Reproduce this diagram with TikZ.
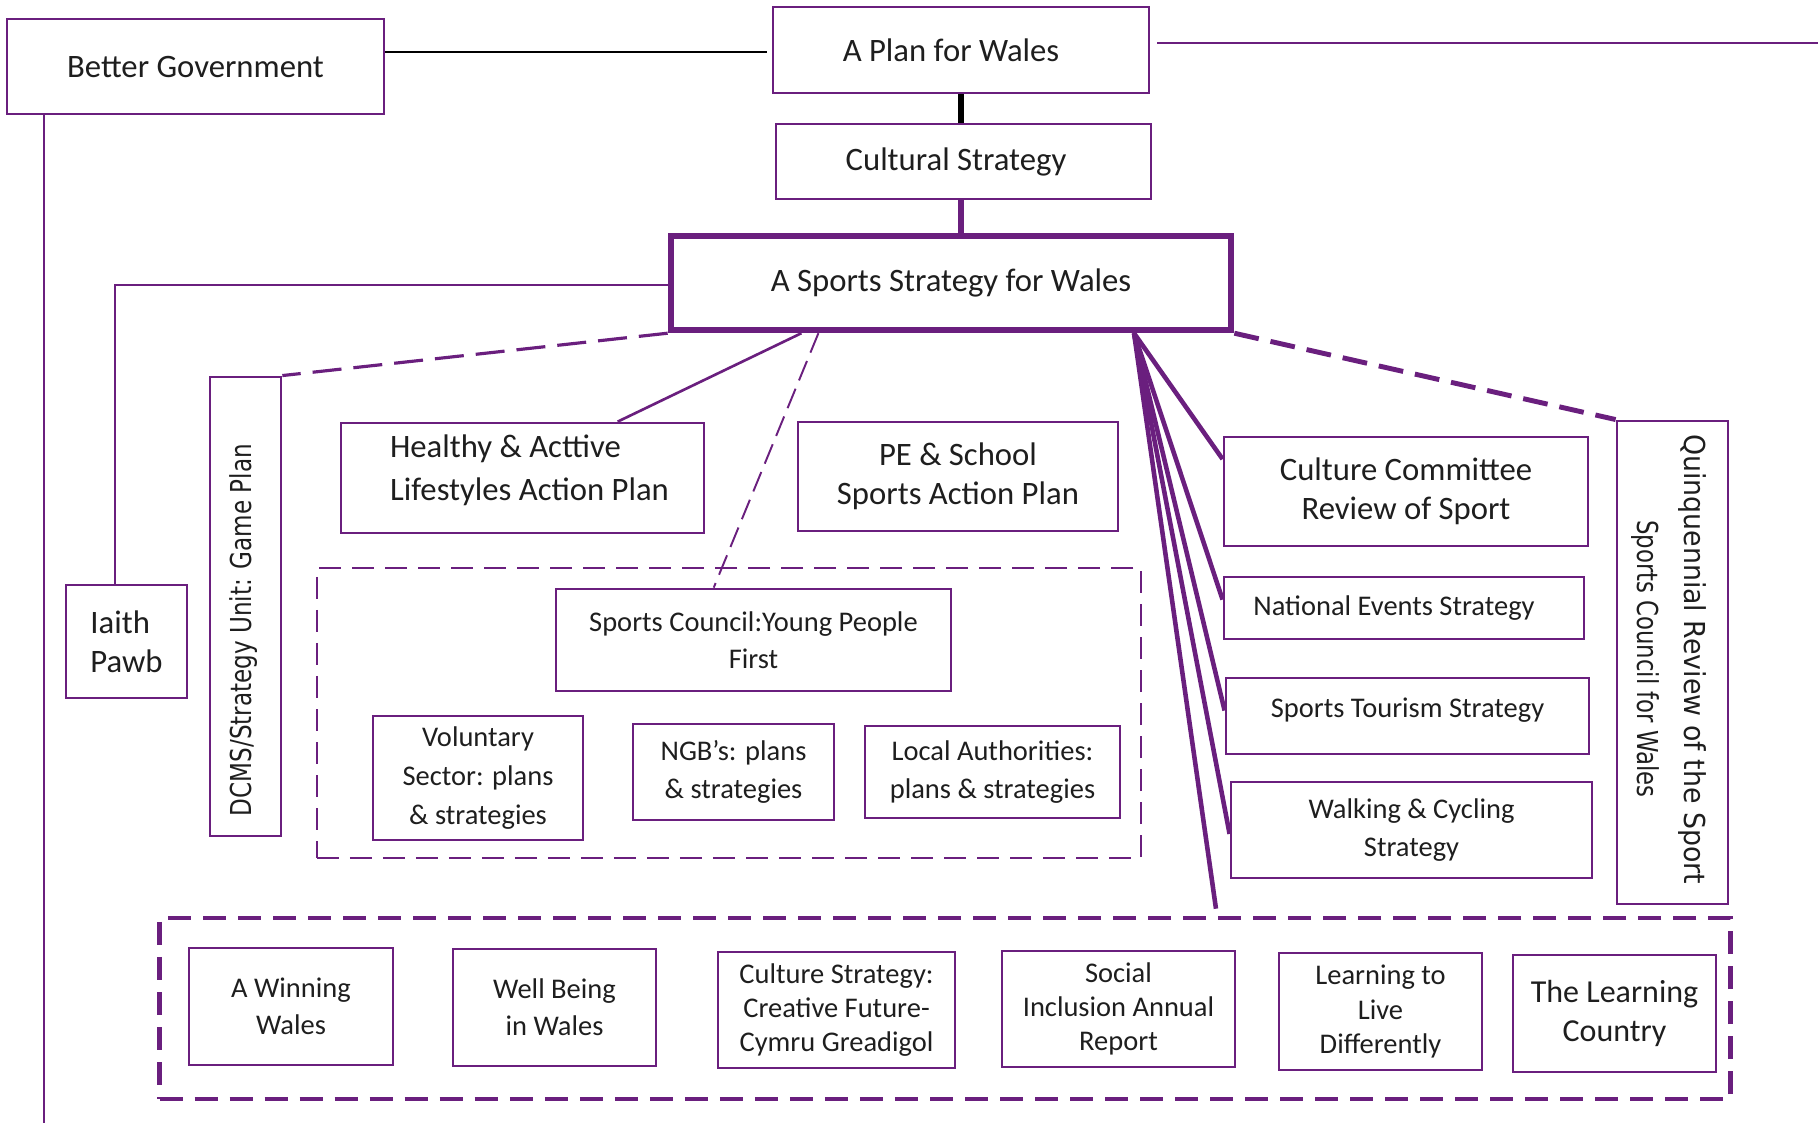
\documentclass[tikz,border=0pt]{standalone}
\usepackage{graphicx}
\usepackage{fontspec}
\setmainfont{Carlito}
\newfontfamily\sidefont{DejaVu Sans}
\usetikzlibrary{calc}
\definecolor{plum}{RGB}{106,31,126}
\definecolor{ink}{RGB}{30,30,30}

\tikzset{
  box/.style={draw=plum, line width=0.75pt, align=center, inner sep=0pt, text=ink},
  bigtext/.style={font=\fontsize{9.3}{11}\selectfont},
  midtext/.style={font=\fontsize{8.1}{10.6}\selectfont},
  sidetext/.style={font=\sidefont\fontsize{8.2}{13.6}\selectfont, text=ink, align=center},
  link/.style={draw=plum, line width=0.75pt},
  fan/.style={draw=plum, line width=1.3pt},
}

\begin{document}
\begin{tikzpicture}[x=0.01cm, y=-0.01cm]
\useasboundingbox (0,0) rectangle (1818,1123);

% Top of the hierarchy
\node[box, bigtext, minimum width=37.7mm, minimum height=9.5mm] (bg) at (195.5, 66.5) {Better Government};
\node[box, bigtext, minimum width=37.6mm, minimum height=8.6mm] (plan) at (961, 50) {\hspace*{-2mm}A Plan for Wales};
\node[box, bigtext, minimum width=37.5mm, minimum height=7.5mm] (cult) at (963.5, 161.5) {\hspace*{-1.5mm}Cultural Strategy};
\node[box, bigtext, line width=1.8pt, minimum width=56mm, minimum height=9.4mm] (sport) at (951, 283) {A Sports Strategy for Wales};

% Left hand side
\node[box, bigtext, align=left, minimum width=12.1mm, minimum height=11.3mm] (iaith) at (126.5, 641.5) {Iaith\\Pawb};
\node[box, minimum width=7.1mm, minimum height=45.9mm] (dcms) at (245.5, 606.5) {};
\node[sidetext, rotate=90, xscale=0.8] (dcmstext) at (244, 630) {DCMS/Strategy Unit: Game Plan};

% Action plans under the strategy
\node[box, bigtext, minimum width=36.3mm, minimum height=11mm] (healthy) at (522.5, 478) {\hspace*{1.4mm}\raisebox{0.7mm}[\height][\depth]{\begin{tabular}{@{}l@{}}Healthy \& Acttive\\[0.4mm]Lifestyles Action Plan\end{tabular}}};
\node[box, bigtext, minimum width=32mm, minimum height=10.9mm] (pe) at (958, 476.5) {PE \& School\\Sports Action Plan};

% Young people group
\node[draw=plum, line width=0.5pt, dash pattern=on 2.2mm off 1.1mm, minimum width=82.4mm, minimum height=29mm] (yp) at (729, 713) {};
\node[box, midtext, minimum width=39.5mm, minimum height=10.2mm] (sc) at (753.5, 640) {Sports Council:Young People\\First};
\node[box, midtext, font=\fontsize{8.1}{11.2}\selectfont, minimum width=21mm, minimum height=12.4mm] (vol) at (478, 778) {Voluntary\\Sector: plans\\\& strategies};
\node[box, midtext, minimum width=20.1mm, minimum height=9.6mm] (ngb) at (733.5, 772) {NGB's: plans\\\& strategies};
\node[box, midtext, minimum width=25.5mm, minimum height=9.2mm] (local) at (992.5, 772) {Local Authorities:\\plans \& strategies};

% Right hand side
\node[box, bigtext, minimum width=36.4mm, minimum height=10.9mm] (cc) at (1406, 491.5) {Culture Committee\\Review of Sport};
\node[box, midtext, minimum width=36mm, minimum height=6.2mm] (ne) at (1404, 608) {\hspace*{-2mm}National Events Strategy};
\node[box, midtext, minimum width=36.3mm, minimum height=7.6mm] (st) at (1407.5, 716) {\raisebox{0.6mm}[\height][\depth]{Sports Tourism Strategy}};
\node[box, midtext, font=\fontsize{8.1}{11}\selectfont, minimum width=36.1mm, minimum height=9.6mm] (wc) at (1411.5, 830) {Walking \& Cycling\\Strategy};
\node[box, minimum width=11.1mm, minimum height=48.3mm] (qr) at (1672.5, 662.5) {};
\node[sidetext, rotate=-90, xscale=0.93] (qrtext) at (1669, 659) {Quinquennial Review of the Sport\\\scalebox{0.85}[1]{Sports Council for Wales}};

% Related documents along the bottom
\node[draw=plum, line width=1.3pt, dash pattern=on 2.3mm off 1.2mm, minimum width=157mm, minimum height=18.1mm] (bot) at (945, 1008.5) {};
\node[box, midtext, minimum width=20.4mm, minimum height=11.7mm] (ww) at (291, 1006.5) {A Winning\\Wales};
\node[box, midtext, minimum width=20.3mm, minimum height=11.7mm] (wb) at (554.5, 1007.5) {Well Being\\in Wales};
\node[box, midtext, font=\fontsize{8.1}{9.8}\selectfont, minimum width=23.7mm, minimum height=11.6mm] (cs) at (836.5, 1010) {Culture Strategy:\\Creative Future-\\Cymru Greadigol};
\node[box, midtext, font=\fontsize{8.1}{9.6}\selectfont, minimum width=23.3mm, minimum height=11.6mm] (si) at (1118.5, 1009) {Social\\Inclusion Annual\\Report};
\node[box, midtext, font=\fontsize{8.1}{9.8}\selectfont, minimum width=20.3mm, minimum height=11.7mm] (ll) at (1380.5, 1011.5) {Learning to\\Live\\Differently};
\node[box, font=\fontsize{9.1}{11}\selectfont, minimum width=20.3mm, minimum height=11.7mm] (lc) at (1614.5, 1013.5) {The Learning\\Country};

% Connectors
\coordinate (bgend) at (44, 1123);
\coordinate (rightend) at (1818, 43);
\coordinate (bend) at (115, 285);
\draw[black, line width=0.7pt, shorten >=0.5mm] (bg.east |- 0,52) -- (plan.west |- 0,52);
\draw[link] ([xshift=0.7mm]plan.east |- rightend) -- (rightend);
\draw[link] (bg.south -| bgend) -- (bgend);
\draw[black, line width=1.8pt] (plan.south) -- (plan.south |- cult.north);
\draw[plum, line width=1.6pt] (cult.south -| plan.south) -- (sport.north -| plan.south);
\draw[link] (sport.west |- bend) -- (bend) -- (bend |- iaith.north);
\draw[link, line width=0.9pt, dash pattern=on 2.9mm off 1.2mm] (sport.south west) -- (dcms.north east);
\draw[link] ($(sport.south west)!0.236!(sport.south east)$) -- ($(healthy.north west)!0.76!(healthy.north east)$);
\draw[link, line width=0.55pt, dash pattern=on 2.1mm off 0.9mm] ($(sport.south west)!0.266!(sport.south east)$) -- ($(sc.north west)!0.40!(sc.north east)$);
\draw[link, line width=1.4pt, dash pattern=on 2.5mm off 1.2mm] (sport.south east) -- (qr.north west);

% Fan out to the right hand boxes
\coordinate (hub) at ($(sport.south west)!0.823!(sport.south east)$);
\draw[fan] (hub) -- ($(cc.north west)!0.21!(cc.south west)$);
\draw[fan] (hub) -- ($(ne.north west)!0.37!(ne.south west)$);
\draw[fan] (hub) -- ($(st.north west)!0.43!(st.south west)$);
\draw[fan] (hub) -- ($(wc.north west)!0.54!(wc.south west)$);
\draw[fan] (hub) -- ($(bot.north west)!0.672!(bot.north east) + (0,-7)$);
\end{tikzpicture}
\end{document}
